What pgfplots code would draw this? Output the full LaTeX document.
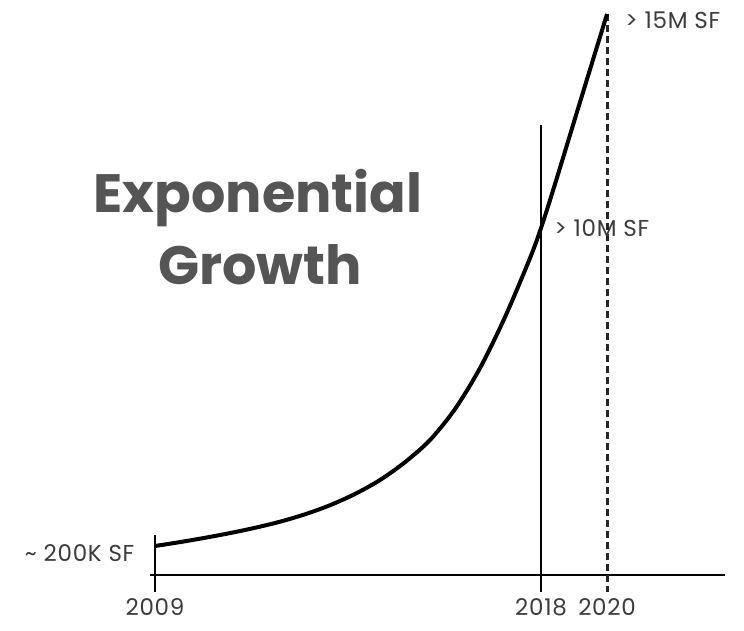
\documentclass[border=0pt]{standalone}
\usepackage{pgfplots}
\pgfplotsset{compat=1.18}
\usepackage{fontspec}
\setmainfont{Poppins}
\newfontfamily\labelfont[LetterSpace=3]{Poppins}
\definecolor{labelgray}{HTML}{3C3C3C}
\definecolor{titlegray}{HTML}{555555}
\tikzset{
  lbl/.style={text=labelgray, font=\labelfont\fontsize{23}{26}\selectfont},
  ttl/.style={text=titlegray, font=\fontsize{54}{60}\selectfont\bfseries},
}
\begin{document}
\begin{tikzpicture}
\begin{axis}[
  at={(0pt,0pt)}, anchor=south west,
  width=744pt, height=630pt, scale only axis,
  axis lines=none, clip=false,
  % timeline: 2009-2018 drawn wider per year than 2018-2020
  x coord trafo/.code={\pgfmathparse{#1<=2018 ? (#1-2009)*42.889 : 386+(#1-2018)*33}},
  % footprint in million SF, stretched above 10M
  y coord trafo/.code={\pgfmathparse{#1<=10 ? (#1-0.2)*32.449 : 318+(#1-10)*42.8}},
  xmin=2005.386, xmax=2024.15,
  ymin=-2.389, ymax=15.327,
]
% baseline
\addplot[black, line width=1.6pt] coordinates {(2008.883,-0.694) (2023.576,-0.694)};
% year markers
\addplot[black, line width=1.6pt] coordinates {(2009,0.539) (2009,-1.218)};
\addplot[black, line width=1.3pt] coordinates {(2018,12.41) (2018,-1.218)};
\addplot[black!85, line width=3pt, dash pattern=on 7pt off 4pt] coordinates {(2020,15.0) (2020,-1.218)};
% footprint growth, million SF
\addplot[black, line width=4pt, smooth, tension=0.5] coordinates {
  (2009.000,0.200) (2009.583,0.320) (2010.166,0.453) (2010.749,0.598)
  (2011.332,0.761) (2011.915,0.949) (2012.497,1.177) (2013.080,1.457)
  (2013.663,1.803) (2014.246,2.234) (2014.829,2.783) (2015.412,3.467)
  (2015.995,4.422) (2016.578,5.686) (2017.161,7.257) (2017.744,9.076)
  (2018.000,10.000) (2018.424,11.028) (2019.182,12.944) (2020.000,15.000)
};
% labels
\node[lbl] at (axis cs:2009,-1.680) {2009};
\node[lbl] at (axis cs:2018,-1.680) {2018};
\node[lbl] at (axis cs:2020,-1.680) {2020};
\node[lbl, anchor=east] at (axis cs:2008.60,-0.016) {\char`\~{} 200K SF};
\node[lbl, anchor=west] at (axis cs:2020.45,14.86) {> 15M SF};
\node[lbl, anchor=west] at (axis cs:2018.30,9.99) {> 10M SF};
\node[ttl] at (axis cs:2011.40,10.70) {Exponential};
\node[ttl] at (axis cs:2011.45,8.86) {Growth};
\end{axis}
\pgfresetboundingbox
\path (0pt,0pt) rectangle (744pt,630pt);
\end{tikzpicture}
\end{document}
